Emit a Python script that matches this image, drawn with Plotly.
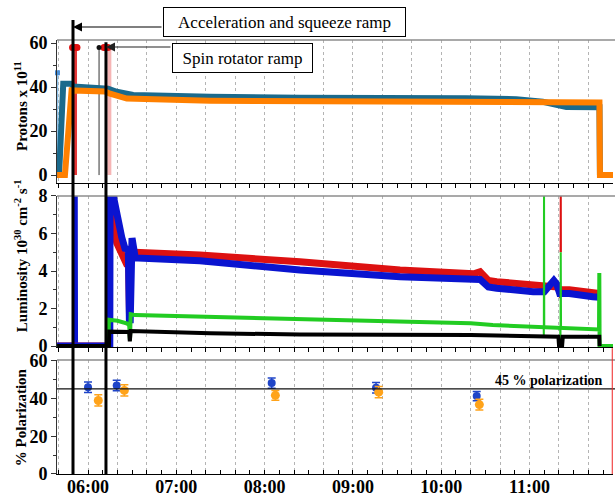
import plotly.graph_objects as go

FONT = "Liberation Serif"


def tm(s):
    """'HH:MM[:SS]' -> minutes after midnight"""
    p = [float(v) for v in s.split(":")]
    while len(p) < 3:
        p.append(0.0)
    return p[0] * 60 + p[1] + p[2] / 60


# ---------------- data ----------------
HOUR_LABELS = ["06:00", "07:00", "08:00", "09:00", "10:00", "11:00"]

# Protons (x 10^11)
P_BLUE_T = ["05:39:00", "05:40:20", "05:43:10", "05:48:50", "05:49:50", "06:11:30", "06:13:40",
            "06:19:30", "06:30:40", "07:23", "08:24", "10:17", "10:51", "11:09", "11:20:40",
            "11:25", "11:47:30", "11:47:50"]
P_BLUE_V = [0, 0, 41.5, 41.5, 40.3, 40.0, 39.3, 37.9, 36.4, 35.6, 35.1, 34.9, 34.5, 33.3, 31.8,
            31.0, 30.8, 0]
P_ORANGE_T = ["05:39:00", "05:44:20", "05:48:50", "06:11:30", "06:15:00", "06:26:20", "07:23",
              "08:24", "10:17", "11:47:30", "11:47:50", "11:58"]
P_ORANGE_V = [0, 0, 38.5, 38.0, 37.0, 34.8, 33.8, 33.6, 33.3, 33.0, 0, 0]

# event markers in proton panel
EV_RED_T = ["05:49:30", "05:51:00", "05:52:30", "06:10:50", "06:12:10", "06:13:30"]
EV_RED_V = [58, 58, 58, 58, 58, 58]
EV_BLACK_T = ["06:07:30"]
EV_BLACK_V = [58]
EV_RED_LINE_T = "05:51:10"
EV_PINK_LINE_T = "06:14:30"
EV_BLUE_T = "05:39:15"
EV_BLUE_V = 46.5

# Luminosity (10^30 cm^-2 s^-1)
L_RED_T = ["05:39:00", "06:14:18", "06:14:36",
           "06:15:12", "06:17:12", "06:19:30", "06:22:54", "06:26:18", "06:27:36", "06:28:12",
           "06:28:48", "06:32:00", "07:16", "08:24", "09:32", "10:22", "10:26:24", "10:32",
           "10:37:42", "11:02:30", "11:19", "11:20:36", "11:21:30", "11:27", "11:43",
           "11:47:24"]
L_RED_V = [0, 0, 9, 8.2, 6.4, 5.5, 4.8, 4.35, 4.3, 1.6, 4.9, 5.0, 4.85, 4.5, 4.05,
           3.85, 3.96, 3.5, 3.43, 3.25, 3.15, 2.9, 3.0, 3.0, 2.8, 2.8]
L_BLUE_T = ["05:39:00", "06:14:48", "06:15:00",
            "06:16:18", "06:17:12", "06:19:30", "06:22:54", "06:25:06", "06:27:24", "06:28:06",
            "06:28:42", "06:29:54", "06:32:06", "07:16", "08:24", "09:32", "10:22", "10:26:24",
            "10:32", "10:37:42", "11:02:30", "11:10", "11:16:30", "11:18:30", "11:20:30", "11:27",
            "11:43", "11:47:24"]
L_BLUE_V = [0, 0, 9, 9, 8.0, 6.9, 5.8, 5.2, 5.15, 1.4, 1.4, 5.75, 4.7, 4.55, 4.05,
            3.7, 3.5, 3.55, 3.15, 3.08, 2.9, 2.9, 3.5, 3.3, 2.8, 2.8, 2.63, 2.6]
# short spikes (drawn thin)
L_FIRST_SPIKE_T = ["05:51:00", "05:51:12", "05:52:00", "05:52:12"]
L_FIRST_SPIKE_V = [0, 9, 9, 0]
L_RED_SPIKE_T = ["11:21:06", "11:21:12", "11:21:18"]
L_RED_SPIKE_V = [5.0, 9, 5.0]
L_GREEN_T = ["05:39:00", "06:13:50", "06:14:12", "06:20", "06:26:40", "06:28:00", "06:28:30",
             "06:29:00", "06:32:00", "07:23", "08:24", "09:32", "10:20", "10:35", "11:00",
             "11:20:50", "11:47:12", "11:47:24", "11:47:36", "11:58"]
L_GREEN_V = [0, 0, 1.4, 1.35, 1.2, 1.1, 0.3, 1.7, 1.65, 1.56, 1.45, 1.35, 1.22, 1.12, 1.03,
             0.95, 0.89, 3.9, 0, 0]
L_GREEN_SPIKE_T = ["11:09:36", "11:09:42", "11:09:50", "11:10:00", "11:20:50", "11:21:00",
                   "11:21:12", "11:21:24"]
L_GREEN_SPIKE_V = [1.0, 0.5, 9, 1.0, 0.95, 0, 5.0, 0.95]
L_BLACK_T = ["05:39:00", "06:14:12", "06:14:24", "06:28:00", "06:28:24", "06:29:00", "07:23",
             "08:24", "10:20", "11:00", "11:19:36", "11:20:00", "11:22:10", "11:22:36",
             "11:47:24", "11:47:36"]
L_BLACK_V = [0, 0, 0.77, 0.75, 0.25, 0.8, 0.68, 0.62, 0.59, 0.53, 0.5, 0.05, 0.05, 0.5, 0.5, 0]

# Polarization (%)
POL_BLUE_T = ["06:00:00", "06:19:30", "08:04:48", "09:15:42", "10:24:06"]
POL_BLUE_V = [45.9, 46.8, 48.1, 45.6, 41.2]
POL_BLUE_E = [2.8, 2.8, 2.7, 2.8, 2.5]
POL_ORANGE_T = ["06:07:00", "06:24:42", "08:07:18", "09:17:30", "10:25:54"]
POL_ORANGE_V = [38.9, 44.2, 41.6, 43.3, 36.7]
POL_ORANGE_E = [3.0, 3.0, 2.6, 3.0, 2.9]
POL_REF = 45

RAMP1_T = "05:49:48"   # acceleration and squeeze ramp
RAMP2_T = "06:12:12"   # spin rotator ramp
RIGHT_EVENT_T = "11:56:12"


def mins(lst):
    return [tm(s) for s in lst]


fig = go.Figure()

# ---- top panel: protons (x3, y3)
fig.add_trace(go.Scatter(x=[tm(EV_BLUE_T)] * 2, y=[0, EV_BLUE_V], xaxis="x3", yaxis="y3",
                         mode="lines", line=dict(color="#8fc4ec", width=1.5), cliponaxis=False))
fig.add_trace(go.Scatter(x=[tm(EV_BLUE_T)], y=[EV_BLUE_V], xaxis="x3", yaxis="y3", mode="markers",
                         marker=dict(color="#4a90d8", size=5, symbol="square"), cliponaxis=False))
fig.add_trace(go.Scatter(x=[tm(EV_RED_LINE_T)] * 2, y=[0, 58], xaxis="x3", yaxis="y3",
                         mode="lines", line=dict(color="rgba(225,20,20,0.85)", width=4)))
fig.add_trace(go.Scatter(x=[tm(EV_PINK_LINE_T)] * 2, y=[0, 58], xaxis="x3", yaxis="y3",
                         mode="lines", line=dict(color="rgba(235,90,90,0.45)", width=4)))
fig.add_trace(go.Scatter(x=[tm(EV_BLACK_T[0])] * 2, y=[0, 58], xaxis="x3", yaxis="y3",
                         mode="lines", line=dict(color="#333333", width=1)))
fig.add_trace(go.Scatter(x=mins(P_BLUE_T), y=P_BLUE_V, xaxis="x3", yaxis="y3", mode="lines",
                         line=dict(color="#1b6a8c", width=6)))
fig.add_trace(go.Scatter(x=mins(P_ORANGE_T), y=P_ORANGE_V, xaxis="x3", yaxis="y3", mode="lines",
                         line=dict(color="#ff8000", width=6)))
fig.add_trace(go.Scatter(x=mins(EV_RED_T), y=EV_RED_V, xaxis="x3", yaxis="y3", mode="markers",
                         marker=dict(color="#e01010", size=7), cliponaxis=False))
fig.add_trace(go.Scatter(x=mins(EV_BLACK_T), y=EV_BLACK_V, xaxis="x3", yaxis="y3", mode="markers",
                         marker=dict(color="#111111", size=5), cliponaxis=False))

# ---- middle panel: luminosity (x2, y2)
fig.add_trace(go.Scatter(x=mins(L_FIRST_SPIKE_T), y=L_FIRST_SPIKE_V, xaxis="x2", yaxis="y2",
                         mode="lines", line=dict(color="#0a14d0", width=3)))
fig.add_trace(go.Scatter(x=mins(L_RED_T), y=L_RED_V, xaxis="x2", yaxis="y2", mode="lines",
                         line=dict(color="#dd1111", width=7)))
fig.add_trace(go.Scatter(x=mins(L_BLUE_T), y=L_BLUE_V, xaxis="x2", yaxis="y2", mode="lines",
                         line=dict(color="#0a14d0", width=7)))
fig.add_trace(go.Scatter(x=mins(L_RED_SPIKE_T), y=L_RED_SPIKE_V, xaxis="x2", yaxis="y2",
                         mode="lines", line=dict(color="#dd1111", width=2)))
fig.add_trace(go.Scatter(x=mins(L_GREEN_T), y=L_GREEN_V, xaxis="x2", yaxis="y2", mode="lines",
                         line=dict(color="#22cc22", width=4)))
fig.add_trace(go.Scatter(x=mins(L_GREEN_SPIKE_T), y=L_GREEN_SPIKE_V, xaxis="x2", yaxis="y2",
                         mode="lines", line=dict(color="#22cc22", width=2)))
fig.add_trace(go.Scatter(x=mins(L_BLACK_T), y=L_BLACK_V, xaxis="x2", yaxis="y2", mode="lines",
                         line=dict(color="#000000", width=4)))

# ---- bottom panel: polarization (x, y)
fig.add_trace(go.Scatter(x=mins(POL_BLUE_T), y=POL_BLUE_V, mode="markers",
                         error_y=dict(type="data", array=POL_BLUE_E, color="#1f45c8",
                                      thickness=1.5, width=4),
                         marker=dict(color="#1f45c8", size=8)))
fig.add_trace(go.Scatter(x=mins(POL_ORANGE_T), y=POL_ORANGE_V, mode="markers",
                         error_y=dict(type="data", array=POL_ORANGE_E, color="#ffa31a",
                                      thickness=1.5, width=4),
                         marker=dict(color="#ffa31a", size=9)))

# ---------------- axes ----------------
XR = [338.93, 716.7]
grid_vals = list(range(340, 717, 20))
grid_text = []
for v in grid_vals:
    lab = "%02d:%02d" % (v // 60, v % 60)
    grid_text.append(lab if lab in HOUR_LABELS else "")


def xaxis_cfg(**kw):
    d = dict(range=XR, tickmode="array", tickvals=grid_vals, ticktext=grid_text,
             showgrid=True, gridcolor="#b4b4b4", griddash="dot", gridwidth=1,
             ticks="outside", ticklen=4, tickcolor="black", showline=True,
             linecolor="black", linewidth=1.2, zeroline=False, automargin=False,
             minor=dict(dtick=10, tick0=0, ticks="outside", ticklen=4, tickcolor="black",
                        showgrid=False),
             tickfont=dict(family=FONT, size=18, color="black", weight="bold"))
    d.update(kw)
    return d


ycommon = dict(ticks="outside", ticklen=5, tickcolor="#333", showline=True, linecolor="#333",
               linewidth=1, showgrid=False, zeroline=False, automargin=False,
               tickfont=dict(family=FONT, size=18, color="black", weight="bold"))

D_BOT = [0, 0.2627]
D_MID = [0.2926, 0.6406]
D_TOP = [0.6705, 1.0]

fig.update_layout(
    template="none",
    width=615, height=496,
    margin=dict(l=57, r=2, t=40, b=22),
    paper_bgcolor="white", plot_bgcolor="white",
    font=dict(family=FONT, color="black"),
    showlegend=False,
    xaxis=xaxis_cfg(anchor="y", domain=[0, 1], showticklabels=True, ticks="inside",
                    ticklabelstandoff=-4,
                    minor=dict(dtick=10, tick0=0, ticks="inside", ticklen=4,
                               tickcolor="black", showgrid=False)),
    xaxis2=xaxis_cfg(anchor="y2", domain=[0, 1], matches="x", showticklabels=False),
    xaxis3=xaxis_cfg(anchor="y3", domain=[0, 1], matches="x", showticklabels=False),
    yaxis=dict(**ycommon, domain=D_BOT, range=[0, 60.3], tickvals=[0, 20, 40, 60],
               minor=dict(dtick=10, ticks="outside", ticklen=3, tickcolor="#333")),
    yaxis2=dict(**ycommon, domain=D_MID, range=[-0.05, 8.0], tickvals=[0, 2, 4, 6, 8],
                minor=dict(dtick=1, ticks="outside", ticklen=3, tickcolor="#333")),
    yaxis3=dict(**ycommon, domain=D_TOP, range=[-3.6, 61.4], tickvals=[0, 20, 40, 60],
                minor=dict(dtick=10, ticks="outside", ticklen=3, tickcolor="#333")),
)

shapes = []
for ytop in [D_TOP[1], D_MID[1], D_BOT[1]]:
    shapes.append(dict(type="line", xref="paper", yref="paper", x0=0, x1=1.01, y0=ytop, y1=ytop,
                       line=dict(color="#8c8c8c", width=1.5)))
shapes.append(dict(type="line", xref="paper", yref="y", x0=0, x1=1.01, y0=POL_REF, y1=POL_REF,
                   line=dict(color="#111", width=1.2)))
shapes.append(dict(type="line", xref="x", yref="paper", x0=tm(RIGHT_EVENT_T),
                   x1=tm(RIGHT_EVENT_T), y0=0, y1=0.29, line=dict(color="#ee2222", width=1)))
shapes.append(dict(type="line", xref="x", yref="paper", x0=tm(RAMP1_T), x1=tm(RAMP1_T),
                   y0=0, y1=1.046, line=dict(color="black", width=3)))
shapes.append(dict(type="line", xref="x", yref="paper", x0=tm(RAMP2_T), x1=tm(RAMP2_T),
                   y0=0, y1=0.995, line=dict(color="black", width=3)))
fig.update_layout(shapes=shapes)

ann = [
    dict(x=tm(RAMP1_T), y=1.030, xref="x", yref="paper", ax=90, ay=0, text="",
         showarrow=True, arrowhead=2, arrowsize=1.5, arrowwidth=1.2, arrowcolor="black"),
    dict(x=tm(RAMP2_T), y=0.9839, xref="x", yref="paper", ax=66, ay=0, text="",
         showarrow=True, arrowhead=2, arrowsize=1.5, arrowwidth=1.2, arrowcolor="#222"),
    dict(x=0.409, y=1.0415, xref="paper", yref="paper", xanchor="center", yanchor="middle",
         text="Acceleration and squeeze ramp",
         showarrow=False, bordercolor="black", borderwidth=1, borderpad=3, bgcolor="white",
         width=235, height=22, font=dict(family=FONT, size=17, color="black")),
    dict(x=0.3336, y=0.9585, xref="paper", yref="paper", xanchor="center", yanchor="middle",
         text="Spin rotator ramp",
         showarrow=False, bordercolor="black", borderwidth=1, borderpad=3, bgcolor="white",
         width=133, height=22, font=dict(family=FONT, size=17, color="black")),
    dict(x=0.984, y=POL_REF, xref="paper", yref="y", xanchor="right", yanchor="bottom",
         text="<b>45 % polarization</b>", showarrow=False, borderpad=0,
         font=dict(family=FONT, size=14, color="black")),
    dict(x=-0.0647, y=0.848, xref="paper", yref="paper", textangle=-90, showarrow=False,
         xanchor="center", yanchor="middle",
         text="<b>Protons x 10<sup>11</sup></b>", font=dict(family=FONT, size=15, color="black")),
    dict(x=-0.0647, y=0.502, xref="paper", yref="paper", textangle=-90, showarrow=False,
         xanchor="center", yanchor="middle",
         text="<b>Luminosity 10<sup>30</sup> cm<sup>-2</sup> s<sup>-1</sup></b>",
         font=dict(family=FONT, size=15, color="black")),
    dict(x=-0.0647, y=0.131, xref="paper", yref="paper", textangle=-90, showarrow=False,
         xanchor="center", yanchor="middle",
         text="<b>% Polarization</b>", font=dict(family=FONT, size=15, color="black")),
]
fig.update_layout(annotations=ann)

fig.write_html("out.html", config={"displayModeBar": False},
               post_script="document.body.style.margin='0px';document.body.style.padding='0px';")
